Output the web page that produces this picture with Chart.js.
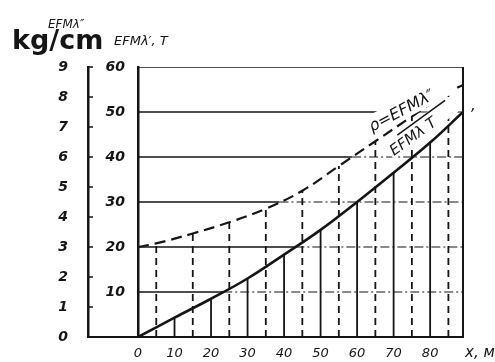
<!DOCTYPE html>
<html>
<head>
<meta charset="utf-8">
<script src="https://cdn.jsdelivr.net/npm/chart.js@4/dist/chart.umd.min.js"></script>
<style>
html, body { margin: 0; padding: 0; background: #fff; }
#wrap { width: 495px; height: 362px; position: relative; }
</style>
</head>
<body>
<div id="wrap"><canvas id="chart" width="495" height="362"></canvas></div>
<script>
// values
const xMax = 89;
const solidX = [0, 10, 20, 30, 40, 50, 60, 70, 80, 89];
const solidY = [0, 4.3, 8.5, 13, 18.3, 23.8, 30, 36.5, 43.2, 50];
const dashX = [0, 5, 15, 25, 35, 45, 55, 65, 75, 85, 89];
const dashY = [20, 20.8, 23, 25.5, 28.5, 32.5, 38, 43.5, 49, 54.4, 56];
const gridLevels = [10, 20, 30, 40, 50, 60];
const xTicks = [0, 10, 20, 30, 40, 50, 60, 70, 80];
const yTicks = [10, 20, 30, 40, 50, 60];
const kgTicks = [0, 1, 2, 3, 4, 5, 6, 7, 8, 9];

const INK = '#151515';

function toPoints(xs, ys) {
    return xs.map((x, i) => ({ x: x, y: ys[i] }));
}

// verticals from the axis up to the curve, gaps between them
function verticals(xs, ys) {
    const pts = [];
    for (let i = 1; i < xs.length - 1; i++) {
        pts.push({ x: xs[i], y: 0 }, { x: xs[i], y: ys[i] }, { x: xs[i], y: null });
    }
    return pts;
}

function crossAt(xs, ys, level) {
    for (let i = 0; i < xs.length - 1; i++) {
        if (ys[i] <= level && ys[i + 1] >= level) {
            return xs[i] + (level - ys[i]) / (ys[i + 1] - ys[i]) * (xs[i + 1] - xs[i]);
        }
    }
    return xMax;
}

// grid lines: solid until the curve meets them, dash-dot after
const gridSolid = [];
const gridDashDot = [];
gridLevels.forEach(v => {
    const c = v > dashY[0] ? crossAt(dashX, dashY, v) : crossAt(solidX, solidY, v);
    gridSolid.push({ x: 0, y: v }, { x: c, y: v }, { x: c, y: null });
    if (c < xMax) gridDashDot.push({ x: c, y: v }, { x: xMax, y: v }, { x: xMax, y: null });
});

const decor = {
    id: 'decor',
    afterDraw(chart) {
        const ctx = chart.ctx;
        const a = chart.chartArea;
        const kg = chart.scales.kg;
        ctx.save();
        ctx.strokeStyle = INK;
        ctx.fillStyle = INK;

        // frame right side, bottom line extension to the left axis
        ctx.lineWidth = 2;
        ctx.beginPath();
        ctx.moveTo(a.right, a.top);
        ctx.lineTo(a.right, a.bottom);
        ctx.moveTo(kg.right, a.bottom);
        ctx.lineTo(a.left, a.bottom);
        ctx.stroke();

        // small ticks on the kg axis
        ctx.lineWidth = 1.5;
        kgTicks.forEach(v => {
            const y = kg.getPixelForValue(v);
            ctx.beginPath();
            ctx.moveTo(kg.right, y);
            ctx.lineTo(kg.right + 5, y);
            ctx.stroke();
        });

        // curve label
        ctx.save();
        ctx.translate(372, 132);
        ctx.rotate(-28 * Math.PI / 180);
        ctx.fillStyle = '#fff';
        ctx.fillRect(-2, -16, 98, 20);
        ctx.fillStyle = INK;
        ctx.font = 'italic 16px "DejaVu Sans"';
        ctx.fillText('ρ=EFMλ″', 0, 0);
        ctx.restore();

        ctx.save();
        ctx.translate(394, 156);
        ctx.rotate(-36 * Math.PI / 180);
        ctx.fillStyle = '#fff';
        ctx.fillRect(-2, -16, 80, 18);
        ctx.fillStyle = INK;
        ctx.font = 'italic 15px "DejaVu Sans"';
        ctx.fillText('EFMλ T', 0, 0);
        ctx.lineWidth = 1.5;
        ctx.beginPath();
        ctx.moveTo(15, -15);
        ctx.lineTo(74, -15);
        ctx.stroke();
        ctx.restore();

        // unit titles
        ctx.font = 'bold 27px "DejaVu Sans"';
        ctx.fillText('kg/cm', 12, 49);
        ctx.font = 'italic 12px "DejaVu Sans"';
        ctx.fillText('EFMλ″', 48, 28);
        ctx.font = 'italic 13px "DejaVu Sans"';
        ctx.fillText('EFMλ\u2032, T', 114, 45);
        ctx.font = 'italic 15px "DejaVu Sans"';
        ctx.fillText('x, м', 465, 357);
        ctx.fillText(',', 471, 110);
        ctx.restore();
    }
};

new Chart(document.getElementById('chart'), {
    type: 'line',
    data: {
        datasets: [
            { data: gridSolid, borderColor: INK, borderWidth: 1.6, pointRadius: 0, spanGaps: false },
            { data: gridDashDot, borderColor: INK, borderWidth: 1.2, borderDash: [9, 3, 2, 3], pointRadius: 0, spanGaps: false },
            { data: verticals(solidX, solidY), borderColor: INK, borderWidth: 1.8, pointRadius: 0, spanGaps: false },
            { data: verticals(dashX, dashY), borderColor: INK, borderWidth: 1.8, borderDash: [7, 5], pointRadius: 0, spanGaps: false },
            { data: toPoints(solidX, solidY), borderColor: INK, borderWidth: 2.6, pointRadius: 0, tension: 0.4 },
            { data: toPoints(dashX, dashY), borderColor: INK, borderWidth: 2.2, borderDash: [11, 6], pointRadius: 0, tension: 0.4 }
        ]
    },
    options: {
        responsive: false,
        animation: false,
        events: [],
        layout: { padding: { top: 67, right: 32, left: 0, bottom: 0 } },
        plugins: { legend: { display: false }, tooltip: { enabled: false } },
        scales: {
            x: {
                type: 'linear', position: 'bottom', min: 0, max: xMax,
                afterBuildTicks: s => { s.ticks = xTicks.map(v => ({ value: v })); },
                afterFit: s => { s.height = 25; },
                grid: { display: false },
                border: { display: true, color: INK, width: 2 },
                ticks: { color: INK, padding: 1, maxRotation: 0, font: { family: 'DejaVu Sans', style: 'italic', size: 13 } }
            },
            y: {
                type: 'linear', position: 'left', weight: 0, min: 0, max: 60,
                afterBuildTicks: s => { s.ticks = yTicks.map(v => ({ value: v })); },
                afterFit: s => { s.width = 50; },
                grid: { display: false },
                border: { display: true, color: INK, width: 2.5 },
                ticks: { color: INK, padding: 5, font: { family: 'DejaVu Sans', style: 'italic', weight: 'bold', size: 14 } }
            },
            kg: {
                type: 'linear', position: 'left', weight: 1, min: 0, max: 9,
                afterBuildTicks: s => { s.ticks = kgTicks.map(v => ({ value: v })); },
                afterFit: s => { s.width = 88; },
                grid: { display: false },
                border: { display: true, color: INK, width: 2.5 },
                ticks: { color: INK, padding: 12, font: { family: 'DejaVu Sans', style: 'italic', weight: 'bold', size: 14 } }
            }
        }
    },
    plugins: [decor]
});
</script>
</body>
</html>
